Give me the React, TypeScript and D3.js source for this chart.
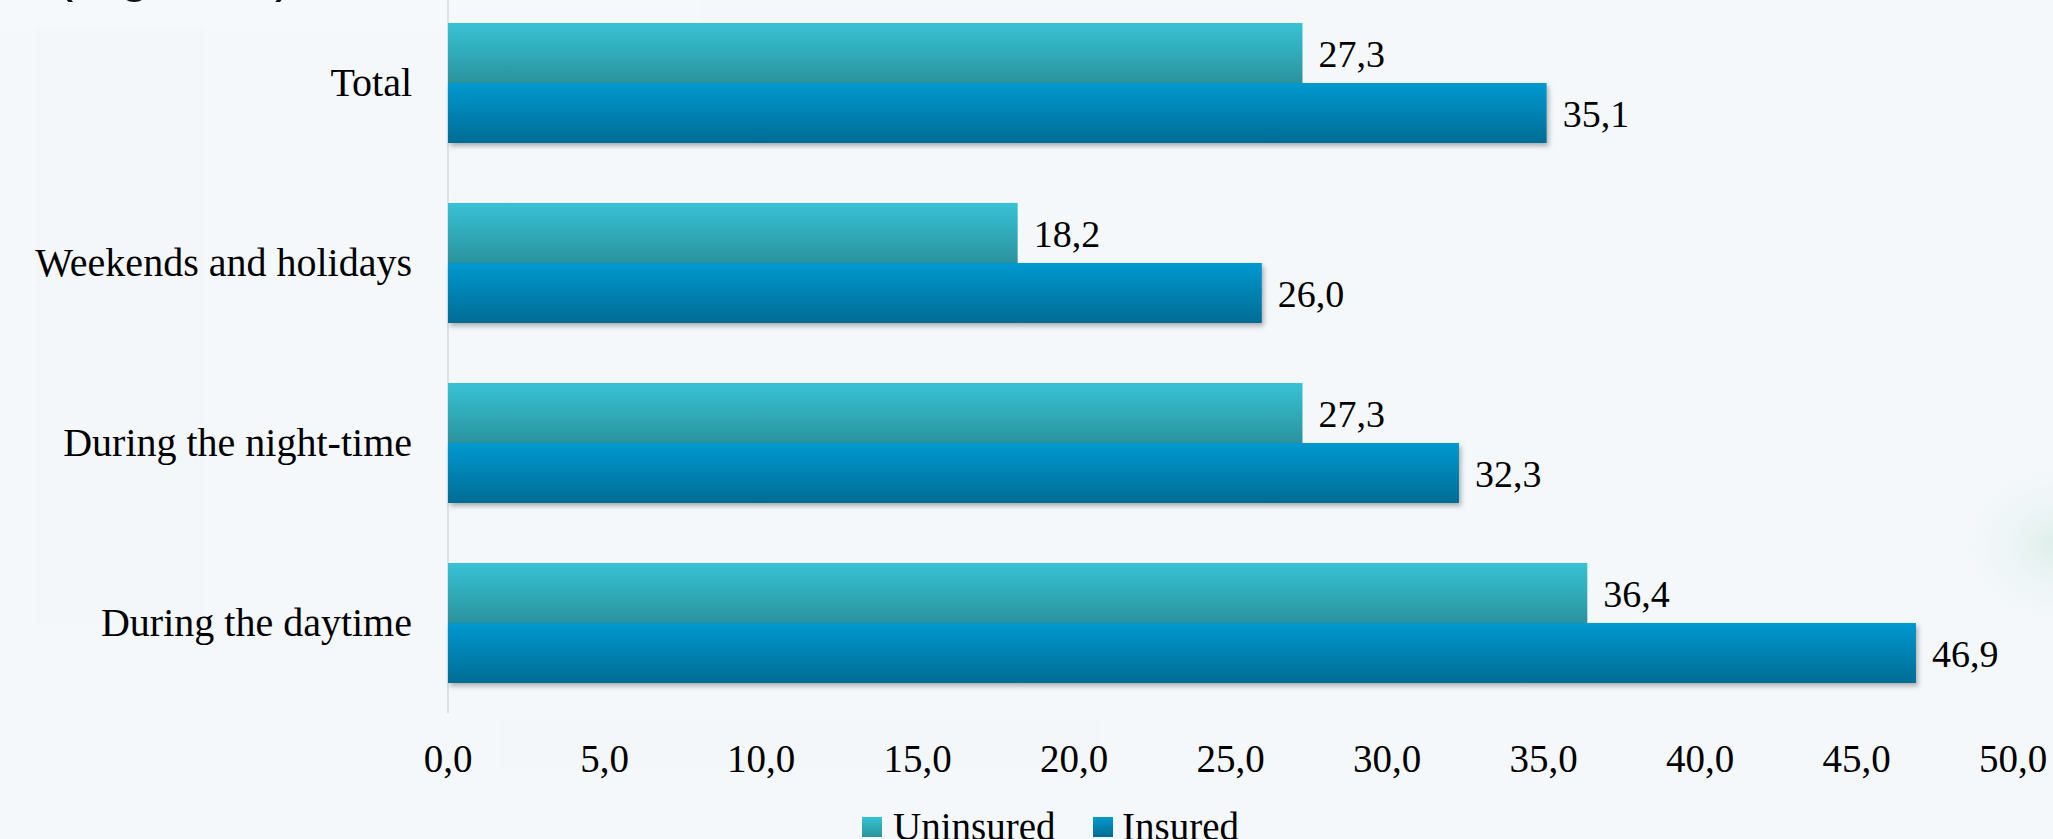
import React from "react";
import * as d3 from "d3";

const categories = ["Total", "Weekends and holidays", "During the night-time", "During the daytime"];
const uninsured = [27.3, 18.2, 27.3, 36.4];
const insured = [35.1, 26.0, 32.3, 46.9];
const seriesNames = ["Uninsured", "Insured"];
const tickValues = [0, 5, 10, 15, 20, 25, 30, 35, 40, 45, 50];
const titleText = "(Figure 4)";

const W = 2053;
const H = 839;

const fmt = (v: number) => d3.format(".1f")(v).replace(".", ",");

export default function App() {
  const x = d3.scaleLinear().domain([0, 50]).range([448, 2013]);
  const y = d3.scaleBand<string>().domain(categories).range([-7, 713]).paddingInner(1 / 3).paddingOuter(1 / 6);
  const sub = d3.scaleBand<string>().domain(seriesNames).range([0, y.bandwidth()]);
  const grads = ["gU", "gI"];
  const serif = "'Liberation Serif', 'Times New Roman', serif";

  return (
    <div style={{ position: "fixed", left: 0, top: 0, width: W, height: H, overflow: "hidden" }}>
      <svg width={W} height={H} style={{ display: "block" }}>
        <defs>
          <linearGradient id="gU" x1="0" y1="0" x2="0" y2="1">
            <stop offset="0" stopColor="#37c2d4" />
            <stop offset="1" stopColor="#2a939e" />
          </linearGradient>
          <linearGradient id="gI" x1="0" y1="0" x2="0" y2="1">
            <stop offset="0" stopColor="#0399cf" />
            <stop offset="1" stopColor="#006c94" />
          </linearGradient>
          <filter id="shadow" x="-5%" y="-20%" width="110%" height="150%">
            <feDropShadow dx="2" dy="3" stdDeviation="2.5" floodColor="#000" floodOpacity="0.3" />
          </filter>
          <radialGradient id="blob" cx="0.5" cy="0.5" r="0.5">
            <stop offset="0" stopColor="#d9ece6" stopOpacity="0.9" />
            <stop offset="1" stopColor="#f4f8fb" stopOpacity="0" />
          </radialGradient>
        </defs>
        <rect x={0} y={0} width={W} height={H} fill="#f4f8fb" />
        <rect x={0} y={0} width={700} height={30} fill="#f6f9fc" />
        <rect x={35} y={25} width={170} height={600} fill="#f3f7fa" opacity={0.6} />
        <rect x={500} y={720} width={600} height={50} fill="#f2f6f9" opacity={0.6} />
        <ellipse cx={2060} cy={545} rx={110} ry={90} fill="url(#blob)" />

        <text x={55} y={-10} fontFamily="'Liberation Sans', Arial, sans-serif" fontSize={55} fill="#111">
          {titleText}
        </text>

        <line x1={448} x2={448} y1={0} y2={713} stroke="#dde1e4" strokeWidth={2} />

        {categories.map((c, i) => {
          const vals = [uninsured[i], insured[i]];
          const y0 = y(c) as number;
          return (
            <g key={c}>
              <text
                x={412}
                y={y0 + y.bandwidth() / 2 + 13}
                textAnchor="end"
                fontFamily={serif}
                fontSize={40}
                fill="#000"
              >
                {c}
              </text>
              {vals.map((v, j) => {
                const by = y0 + (sub(seriesNames[j]) as number);
                return (
                  <g key={j}>
                    <rect
                      x={x(0)}
                      y={by}
                      width={x(v) - x(0)}
                      height={sub.bandwidth()}
                      fill={`url(#${grads[j]})`}
                      filter={j === 1 ? "url(#shadow)" : undefined}
                    />
                    <text
                      x={x(v) + 16}
                      y={by + sub.bandwidth() / 2 + 14}
                      fontFamily={serif}
                      fontSize={38}
                      fill="#000"
                    >
                      {fmt(v)}
                    </text>
                  </g>
                );
              })}
            </g>
          );
        })}

        {tickValues.map((t) => (
          <text key={t} x={x(t)} y={772} textAnchor="middle" fontFamily={serif} fontSize={39} fill="#000">
            {fmt(t)}
          </text>
        ))}

        <g>
          <rect x={862} y={817} width={20} height={20} fill="url(#gU)" />
          <text x={893} y={840} fontFamily={serif} fontSize={39} fill="#000">
            {seriesNames[0]}
          </text>
          <rect x={1093} y={817} width={20} height={20} fill="url(#gI)" />
          <text x={1122} y={840} fontFamily={serif} fontSize={39} fill="#000">
            {seriesNames[1]}
          </text>
        </g>
      </svg>
    </div>
  );
}
